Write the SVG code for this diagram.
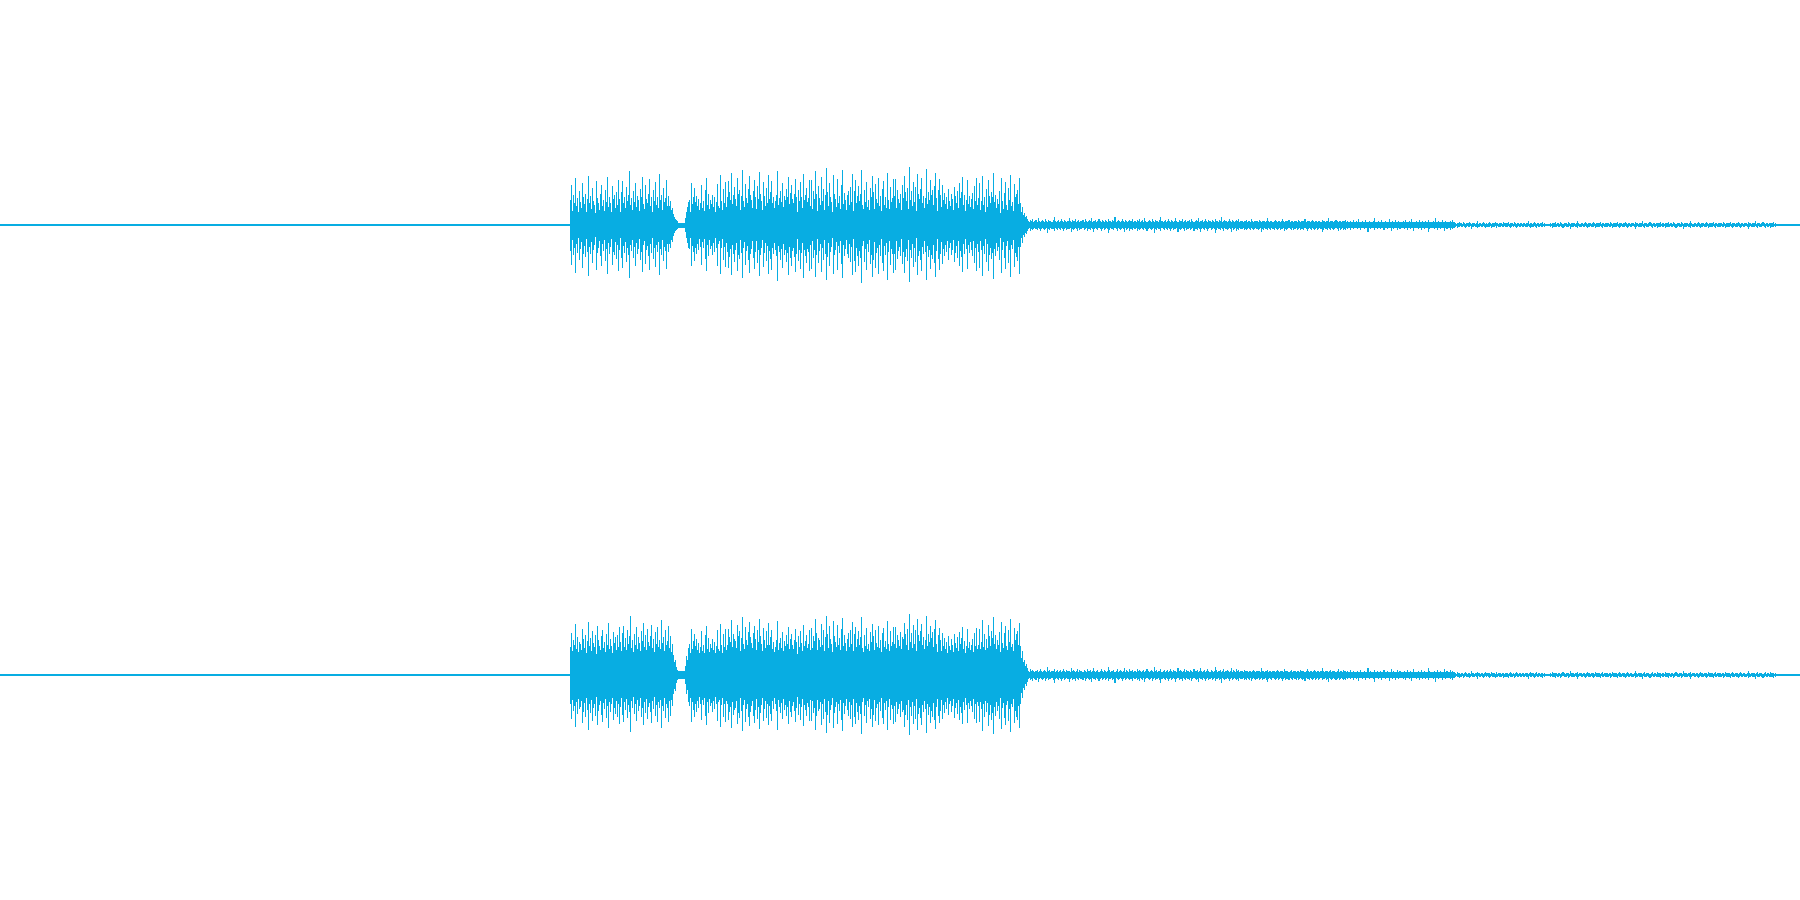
<svg xmlns="http://www.w3.org/2000/svg" width="1800" height="900" viewBox="0 0 1800 900">
<style>
.w{fill:#08ade2;shape-rendering:crispEdges}
</style>
<defs>
<path id="Aa" d="M0 0V-28h1V-44h1V-16h1V-33h1V-25h1V-52h1V-21h1V-30h1V-14h1V-38h1V-26h1V-19h1V-47h1V-31h1V-23h1V-35h1V-15h1V-29h1V-55h1V-24h1V-32h1V-18h1V-41h1V-27h1V-22h1V-36h1V-13h1V-49h1V-30h1V-25h1V-17h1V-34h1V-45h1V-21h1V-28h1V-16h1V-39h1V-26h1V-53h1V-20h1V-31h1V-24h1V-15h1V-43h1V-29h1V-33h1V-19h1V-37h1V-22h1V-50h1V0Z"/>
<path id="Ab" d="M0 0V-27h1V-14h1V-35h1V-46h1V-23h1V-30h1V-18h1V-40h1V-25h1V-32h1V-57h1V-21h1V-28h1V-16h1V-36h1V-24h1V-44h1V-19h1V-31h1V-26h1V-15h1V-38h1V-29h1V-51h1V-22h1V-34h1V-17h1V-42h1V-27h1V-23h1V-33h1V-48h1V-20h1V-30h1V-14h1V-37h1V-25h1V-45h1V-21h1V-29h1V-18h1V-54h1V-26h1V-32h1V-16h1V-39h1V-24h1V-28h1V-47h1V-20h1V0Z"/>
<path id="Ba" d="M0 0V-30h1V-46h1V-26h1V-38h1V-33h1V-55h1V-28h1V-41h1V-25h1V-36h1V-34h1V-27h1V-50h1V-39h1V-29h1V-44h1V-24h1V-37h1V-58h1V-31h1V-40h1V-26h1V-48h1V-35h1V-30h1V-43h1V-23h1V-53h1V-38h1V-32h1V-27h1V-42h1V-49h1V-29h1V-36h1V-25h1V-45h1V-33h1V-56h1V-28h1V-39h1V-31h1V-24h1V-47h1V-35h1V-41h1V-27h1V-44h1V-30h1V-52h1V0Z"/>
<path id="Bb" d="M0 0V-34h1V-25h1V-43h1V-51h1V-29h1V-38h1V-26h1V-46h1V-32h1V-40h1V-61h1V-28h1V-36h1V-24h1V-42h1V-31h1V-49h1V-27h1V-39h1V-33h1V-25h1V-45h1V-35h1V-54h1V-29h1V-41h1V-26h1V-47h1V-34h1V-30h1V-40h1V-52h1V-28h1V-37h1V-24h1V-44h1V-32h1V-50h1V-29h1V-36h1V-27h1V-57h1V-33h1V-39h1V-25h1V-46h1V-31h1V-35h1V-51h1V-28h1V0Z"/>
<path id="T" d="M0 0V-4h1V-3h1V-5h1V-4h1V-6h1V-3h1V-4h1V-5h1V-3h1V-7h1V-4h1V-3h1V-4h1V-5h1V-4h1V-3h1V-6h1V-4h1V-3h1V-5h1V-4h1V-4h1V-3h1V-5h1V-8h1V-4h1V-3h1V-4h1V-5h1V-3h1V-4h1V-6h1V-4h1V-3h1V-5h1V-4h1V-3h1V-4h1V-7h1V-4h1V-3h1V-5h1V-4h1V-4h1V-6h1V-3h1V-4h1V-5h1V-3h1V-4h1V-4h1V-5h1V-3h1V-6h1V-4h1V-3h1V-4h1V-5h1V-4h1V-7h1V-3h1V-4h1V-4h1V-5h1V-3h1V-4h1V-6h1V-4h1V-3h1V-5h1V-4h1V-3h1V-5h1V-4h1V-3h1V-6h1V-4h1V-4h1V-3h1V-5h1V-4h1V-8h1V-3h1V-4h1V-5h1V-4h1V-3h1V-4h1V-6h1V-4h1V-3h1V-5h1V-4h1V-3h1V-4h1V-5h1V-4h1V-6h1V-3h1V-4h1V0Z"/>
</defs>

<g id="channel-1" class="w">
<rect x="0" y="224.4" width="1800" height="1.2"/>
<use href="#Aa" transform="translate(570 225) scale(0.98 0.9)"/>
<use href="#Ab" transform="translate(619 225) scale(0.98 0.95)"/>
<use href="#Aa" transform="translate(570 225) scale(0.98 -0.92)"/>
<use href="#Ab" transform="translate(619 225) scale(0.98 -0.93)"/>
<path d="M668 225V196H669V206H670V201H671V210H672V208H673V214H674V217H675V219H676V220H677V221H678V225Z"/>
<path d="M668 225V252H669V244H670V248H671V240H672V242H673V236H674V233H675V231H676V230H677V229H678V225Z"/>
<rect x="678" y="222.5" width="7" height="5"/>
<path d="M685 225V218H686V212H687V207H688V202H689V225Z"/>
<path d="M685 225V232H686V238H687V243H688V248H689V225Z"/>
<use href="#Ab" transform="translate(689 225) scale(0.76 0.92)"/>
<use href="#Aa" transform="translate(726.875 225) scale(0.8375 1)"/>
<use href="#Ab" transform="translate(768.75 225) scale(0.8375 0.95)"/>
<use href="#Aa" transform="translate(810.625 225) scale(0.8375 1.03)"/>
<use href="#Ab" transform="translate(852.5 225) scale(0.8375 0.97)"/>
<use href="#Aa" transform="translate(894.375 225) scale(0.8375 1.05)"/>
<use href="#Ab" transform="translate(936.25 225) scale(0.8375 1)"/>
<use href="#Aa" transform="translate(978.125 225) scale(0.8375 0.95)"/>
<use href="#Ab" transform="translate(689 225) scale(0.76 -0.9)"/>
<use href="#Aa" transform="translate(726.875 225) scale(0.8375 -0.97)"/>
<use href="#Ab" transform="translate(768.75 225) scale(0.8375 -0.98)"/>
<use href="#Aa" transform="translate(810.625 225) scale(0.8375 -1)"/>
<use href="#Ab" transform="translate(852.5 225) scale(0.8375 -1.02)"/>
<use href="#Aa" transform="translate(894.375 225) scale(0.8375 -1.03)"/>
<use href="#Ab" transform="translate(936.25 225) scale(0.8375 -0.97)"/>
<use href="#Aa" transform="translate(978.125 225) scale(0.8375 -0.98)"/>
<path d="M1020 225V203H1021V212H1022V207H1023V215H1024V213H1025V217H1026V216H1027V219H1028V225Z"/>
<path d="M1020 225V247H1021V238H1022V243H1023V235H1024V237H1025V233H1026V234H1027V231H1028V225Z"/>
<use href="#T" transform="translate(1028 225) scale(1.0675 1)"/>
<use href="#T" transform="translate(1134.75 225) scale(1.0675 0.95)"/>
<use href="#T" transform="translate(1241.5 225) scale(1.0675 0.9)"/>
<use href="#T" transform="translate(1348.25 225) scale(1.0675 0.85)"/>
<use href="#T" transform="translate(1134.75 225) scale(-1.0675 -1)"/>
<use href="#T" transform="translate(1241.5 225) scale(-1.0675 -0.95)"/>
<use href="#T" transform="translate(1348.25 225) scale(-1.0675 -0.9)"/>
<use href="#T" transform="translate(1455 225) scale(-1.0675 -0.85)"/>
<use href="#T" transform="translate(1455 225) scale(0.9 0.45)"/>
<use href="#T" transform="translate(1550 225) scale(1.13 0.45)"/>
<use href="#T" transform="translate(1663 225) scale(1.13 0.45)"/>
<use href="#T" transform="translate(1545 225) scale(-0.9 -0.45)"/>
<use href="#T" transform="translate(1663 225) scale(-1.13 -0.45)"/>
<use href="#T" transform="translate(1776 225) scale(-1.13 -0.45)"/>
</g>

<g id="channel-2" class="w">
<rect x="0" y="674.4" width="1800" height="1.2"/>
<use href="#Ba" transform="translate(570 675) scale(1 0.92)"/>
<use href="#Bb" transform="translate(620 675) scale(1 0.97)"/>
<use href="#Ba" transform="translate(570 675) scale(1 -0.95)"/>
<use href="#Bb" transform="translate(620 675) scale(1 -0.93)"/>
<path d="M670 675V636H671V652H672V644H673V655H674V662H675V660H676V667H677V670H678V675Z"/>
<path d="M670 675V716H671V700H672V706H673V694H674V689H675V691H676V683H677V680H678V675Z"/>
<rect x="678" y="671" width="7" height="8"/>
<path d="M685 675V666H686V656H687V660H688V648H689V675Z"/>
<path d="M685 675V684H686V694H687V690H688V702H689V675Z"/>
<use href="#Bb" transform="translate(689 675) scale(0.76 0.9)"/>
<use href="#Ba" transform="translate(726.875 675) scale(0.8375 1)"/>
<use href="#Bb" transform="translate(768.75 675) scale(0.8375 0.88)"/>
<use href="#Ba" transform="translate(810.625 675) scale(0.8375 1.02)"/>
<use href="#Bb" transform="translate(852.5 675) scale(0.8375 0.95)"/>
<use href="#Ba" transform="translate(894.375 675) scale(0.8375 1.05)"/>
<use href="#Bb" transform="translate(936.25 675) scale(0.8375 0.92)"/>
<use href="#Ba" transform="translate(978.125 675) scale(0.8375 1)"/>
<use href="#Bb" transform="translate(689 675) scale(0.76 -0.92)"/>
<use href="#Ba" transform="translate(726.875 675) scale(0.8375 -0.97)"/>
<use href="#Bb" transform="translate(768.75 675) scale(0.8375 -0.9)"/>
<use href="#Ba" transform="translate(810.625 675) scale(0.8375 -1)"/>
<use href="#Bb" transform="translate(852.5 675) scale(0.8375 -0.97)"/>
<use href="#Ba" transform="translate(894.375 675) scale(0.8375 -1.03)"/>
<use href="#Bb" transform="translate(936.25 675) scale(0.8375 -0.95)"/>
<use href="#Ba" transform="translate(978.125 675) scale(0.8375 -1.02)"/>
<path d="M1020 675V646H1021V658H1022V651H1023V662H1024V660H1025V666H1026V664H1027V668H1028V675Z"/>
<path d="M1020 675V704H1021V693H1022V698H1023V688H1024V690H1025V684H1026V686H1027V682H1028V675Z"/>
<use href="#T" transform="translate(1134.75 675) scale(-1.0675 1)"/>
<use href="#T" transform="translate(1241.5 675) scale(-1.0675 0.95)"/>
<use href="#T" transform="translate(1348.25 675) scale(-1.0675 0.9)"/>
<use href="#T" transform="translate(1455 675) scale(-1.0675 0.85)"/>
<use href="#T" transform="translate(1028 675) scale(1.0675 -1)"/>
<use href="#T" transform="translate(1134.75 675) scale(1.0675 -0.95)"/>
<use href="#T" transform="translate(1241.5 675) scale(1.0675 -0.9)"/>
<use href="#T" transform="translate(1348.25 675) scale(1.0675 -0.85)"/>
<use href="#T" transform="translate(1545 675) scale(-0.9 0.45)"/>
<use href="#T" transform="translate(1663 675) scale(-1.13 0.45)"/>
<use href="#T" transform="translate(1776 675) scale(-1.13 0.45)"/>
<use href="#T" transform="translate(1455 675) scale(0.9 -0.45)"/>
<use href="#T" transform="translate(1550 675) scale(1.13 -0.45)"/>
<use href="#T" transform="translate(1663 675) scale(1.13 -0.45)"/>
</g>
</svg>
